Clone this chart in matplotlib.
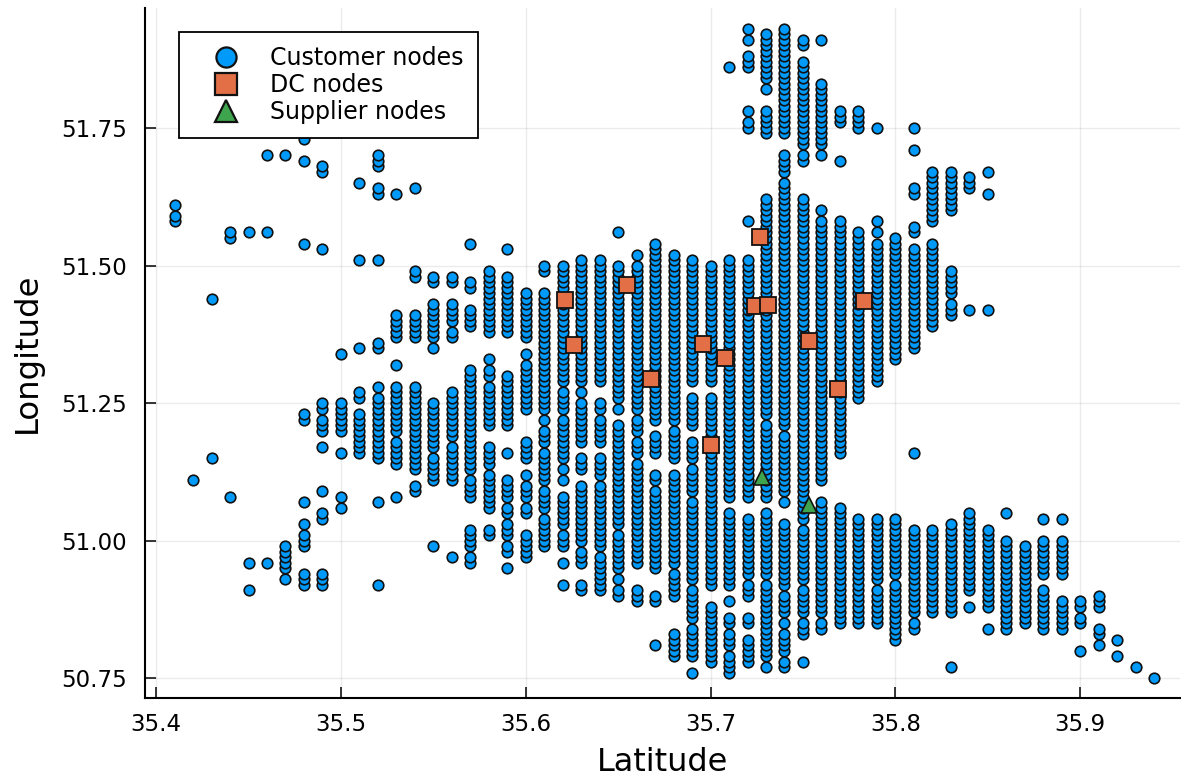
"""Customer, DC and supplier node locations on a lat/lon scatter."""

import matplotlib
matplotlib.use("Agg")  # non-interactive backend
import matplotlib.pyplot as plt
from matplotlib.lines import Line2D
import numpy as np

# customer sites sit on a 0.01 degree grid, so each latitude column is listed
# as runs of longitudes (top, bottom); a lone value is one site
customer_lats = [
    35.41, 35.42, 35.43, 35.44, 35.45, 35.46, 35.47, 35.48, 35.49, 35.50,
    35.51, 35.52, 35.53, 35.54, 35.55, 35.56, 35.57, 35.58, 35.59, 35.60,
    35.61, 35.62, 35.63, 35.64, 35.65, 35.66, 35.67, 35.68, 35.69, 35.70,
    35.71, 35.72, 35.73, 35.74, 35.75, 35.76, 35.77, 35.78, 35.79, 35.80,
    35.81, 35.82, 35.83, 35.84, 35.85, 35.86, 35.87, 35.88, 35.89, 35.90,
    35.91, 35.92, 35.93, 35.94,
]
customer_lon_runs = [
    [51.61, (51.59, 51.58)],
    [51.11],
    [51.44, 51.15],
    [(51.56, 51.55), 51.08],
    [51.56, 50.96, 50.91],
    [51.70, 51.56, 50.96],
    [51.70, (50.99, 50.95), 50.93],
    [51.73, 51.69, 51.54, (51.23, 51.22), 51.07, 51.03, (51.01, 50.99), (50.94, 50.92)],
    [(51.68, 51.67), 51.53, (51.25, 51.24), (51.22, 51.20), 51.17, 51.09, (51.05, 51.04), (50.94, 50.92)],
    [51.34, (51.25, 51.20), 51.16, 51.08, 51.06],
    [51.65, 51.51, 51.35, (51.27, 51.26), (51.23, 51.16)],
    [(51.70, 51.68), (51.64, 51.63), 51.51, (51.36, 51.35), 51.28, (51.26, 51.15), 51.07, 50.92],
    [51.63, (51.41, 51.37), 51.32, (51.28, 51.20), (51.18, 51.14), 51.08],
    [51.64, (51.49, 51.48), (51.41, 51.37), (51.28, 51.13), (51.10, 51.09)],
    [(51.48, 51.47), (51.43, 51.37), 51.35, (51.25, 51.17), (51.15, 51.11), 50.99],
    [(51.48, 51.47), (51.43, 51.40), (51.38, 51.37), (51.27, 51.19), (51.17, 51.11), 50.97],
    [51.54, (51.47, 51.46), (51.42, 51.39), (51.31, 51.13), (51.11, 51.08), (51.02, 50.99), (50.97, 50.96)],
    [(51.49, 51.38), 51.33, (51.31, 51.30), (51.28, 51.21), (51.17, 51.14), (51.12, 51.06), (51.02, 51.01)],
    [51.53, (51.48, 51.38), (51.30, 51.21), 51.16, (51.11, 51.08), (51.06, 51.05), (51.03, 51.01), (50.99, 50.98), 50.95],
    [(51.45, 51.37), 51.34, (51.32, 51.24), (51.18, 51.15), 51.12, (51.10, 51.08), (51.06, 51.05), (51.01, 50.97)],
    [(51.50, 51.49), (51.45, 51.24), 51.22, (51.20, 51.18), (51.16, 51.11), (51.09, 51.06), (51.04, 50.99)],
    [(51.50, 51.29), (51.27, 51.24), (51.22, 51.15), 51.13, 51.11, (51.08, 51.03), (51.01, 50.99), 50.96, 50.92],
    [(51.51, 51.29), 51.27, (51.25, 51.18), (51.15, 51.13), (51.10, 51.00), (50.98, 50.96), (50.92, 50.91)],
    [(51.51, 51.29), (51.25, 51.24), (51.22, 51.18), (51.15, 51.12), (51.10, 50.99), (50.97, 50.91)],
    [51.56, (51.50, 51.26), 51.24, (51.21, 51.03), (51.01, 50.95), 50.93, (50.91, 50.90)],
    [51.52, (51.50, 51.24), (51.22, 51.20), (51.18, 51.16), (51.14, 50.96), (50.91, 50.89)],
    [(51.54, 51.22), (51.19, 51.16), (51.12, 51.11), (51.09, 50.95), (50.90, 50.89), 50.81],
    [(51.52, 51.22), (51.20, 51.15), (51.12, 50.96), (50.94, 50.90), (50.83, 50.79)],
    [(51.51, 51.29), (51.26, 51.21), (51.18, 51.15), (51.13, 51.09), (51.07, 50.93), (50.91, 50.86), (50.84, 50.79), 50.76],
    [(51.50, 51.29), (51.26, 50.92), (50.88, 50.78)],
    [51.86, (51.51, 51.08), (51.05, 50.92), 50.89, (50.86, 50.85), (50.83, 50.81), (50.79, 50.76)],
    [51.93, 51.91, (51.88, 51.86), 51.78, (51.76, 51.75), 51.58, (51.51, 51.08), (51.04, 50.94), (50.92, 50.90), (50.86, 50.85), (50.82, 50.78)],
    [(51.92, 51.84), 51.82, (51.78, 51.74), (51.62, 51.23), (51.21, 51.08), (51.05, 50.94), (50.92, 50.79), 50.77],
    [(51.93, 51.74), (51.70, 51.67), (51.65, 51.21), (51.19, 51.09), 51.07, (51.03, 50.92), (50.90, 50.87), 50.85, (50.83, 50.80), (50.78, 50.77)],
    [(51.91, 51.90), (51.87, 51.72), (51.70, 51.69), (51.62, 51.04), (51.02, 50.93), (50.91, 50.87), (50.85, 50.83), 50.78],
    [51.91, (51.83, 51.72), 51.70, 51.60, (51.58, 51.11), (51.07, 50.87), (50.85, 50.84)],
    [(51.78, 51.76), 51.69, (51.58, 51.16), (51.06, 50.85)],
    [(51.78, 51.75), (51.56, 51.26), (51.04, 50.85)],
    [51.75, 51.58, 51.56, (51.54, 51.29), (51.04, 50.93), (50.91, 50.85)],
    [(51.55, 51.33), (51.04, 50.94), (50.92, 50.82)],
    [51.75, 51.71, (51.64, 51.63), (51.57, 51.56), (51.53, 51.35), 51.16, (51.02, 50.87), (50.85, 50.84)],
    [(51.67, 51.58), (51.54, 51.39), (51.02, 50.87)],
    [(51.67, 51.60), (51.49, 51.45), (51.43, 51.41), (51.03, 50.87), 50.77],
    [(51.66, 51.64), 51.42, (51.05, 50.91), 50.88],
    [51.67, 51.63, 51.42, (51.02, 50.88), 50.84],
    [51.05, (51.00, 50.84)],
    [(50.99, 50.85)],
    [51.04, (51.00, 50.94), (50.91, 50.84)],
    [51.04, (51.00, 50.94), (50.89, 50.84)],
    [(50.89, 50.88), (50.86, 50.85), 50.80],
    [(50.90, 50.88), (50.84, 50.83), 50.81],
    [50.82, 50.79],
    [50.77],
    [50.75],
]

dc_lats = [35.621, 35.655, 35.626, 35.668, 35.696, 35.708, 35.724, 35.731, 35.727, 35.753, 35.783, 35.769, 35.700]
dc_lons = [51.438, 51.465, 51.356, 51.294, 51.358, 51.332, 51.427, 51.429, 51.551, 51.363, 51.436, 51.276, 51.173]

supplier_lats = [35.728, 35.753]
supplier_lons = [51.116, 51.065]

x_ticks = [35.4, 35.5, 35.6, 35.7, 35.8, 35.9]
y_ticks = [50.75, 51.00, 51.25, 51.50, 51.75]

BLUE = "#009AFA"
ORANGE = "#E36F47"
GREEN = "#3EA44E"
EDGE = "#111111"


def expand_column(lat, runs):
    """Turn one column's runs into lat/lon points, lowest longitude first."""
    lons = []
    for run in runs:
        if isinstance(run, tuple):
            top, bottom = round(run[0] * 100), round(run[1] * 100)
            lons.extend(v / 100 for v in range(bottom, top + 1))
        else:
            lons.append(run)
    lons.sort()  # upper points overlap the ones below, as in the original
    return [lat] * len(lons), lons


cust_x, cust_y = [], []
for lat, runs in zip(customer_lats, customer_lon_runs):
    xs, ys = expand_column(lat, runs)
    cust_x.extend(xs)
    cust_y.extend(ys)
cust_x = np.array(cust_x)
cust_y = np.array(cust_y)

fig = plt.figure(figsize=(11.81, 7.81), dpi=100)
ax = fig.add_axes([145 / 1181, (781 - 698) / 781, (1180 - 145) / 1181, (698 - 8) / 781])

ax.plot(cust_x, cust_y, "o", ms=7.6, color=BLUE, mec=EDGE, mew=1.2, clip_on=False, zorder=3)
ax.plot(dc_lats, dc_lons, "s", ms=11, color=ORANGE, mec=EDGE, mew=1.3, zorder=4)
ax.plot(supplier_lats, supplier_lons, "^", ms=11.5, color=GREEN, mec=EDGE, mew=1.2, zorder=5)

ax.set_xlim(35.394, 35.954)
ax.set_ylim(50.714, 51.968)
ax.set_xticks(x_ticks)
ax.set_xticklabels([f"{v:.1f}" for v in x_ticks])
ax.set_yticks(y_ticks)
ax.set_yticklabels([f"{v:.2f}" for v in y_ticks])
ax.tick_params(axis="x", direction="in", length=8, width=1.1, labelsize=16.5, pad=11)
ax.tick_params(axis="y", direction="in", length=8, width=1.1, labelsize=16.5, pad=13)
ax.grid(True, color="black", alpha=0.08, linewidth=1)
ax.set_axisbelow(True)
ax.spines["top"].set_visible(False)
ax.spines["right"].set_visible(False)
ax.spines["left"].set_linewidth(1.5)
ax.spines["bottom"].set_linewidth(1.5)
ax.set_xlabel("Latitude", fontsize=23, labelpad=8)
ax.set_ylabel("Longitude", fontsize=23.3, labelpad=13)

handles = [
    Line2D([], [], marker="o", ls="", ms=14.5, color=BLUE, mec=EDGE, mew=1.6),
    Line2D([], [], marker="s", ls="", ms=16, color=ORANGE, mec=EDGE, mew=1.6),
    Line2D([], [], marker="^", ls="", ms=16.5, color=GREEN, mec=EDGE, mew=1.6),
]
leg = ax.legend(
    handles,
    ["Customer nodes", "DC nodes", "Supplier nodes"],
    loc="upper left",
    bbox_to_anchor=((179 - 145) / 1035, (698 - 32) / 690),
    borderaxespad=0,
    fontsize=17,
    labelspacing=0.12,
    handlelength=2.75,
    handletextpad=0.5,
    borderpad=0.6,
    fancybox=False,
    framealpha=1,
    edgecolor="black",
)
leg.get_frame().set_linewidth(1.3)
leg.set_zorder(10)

fig.savefig("out.png", dpi=100)
plt.close(fig)
